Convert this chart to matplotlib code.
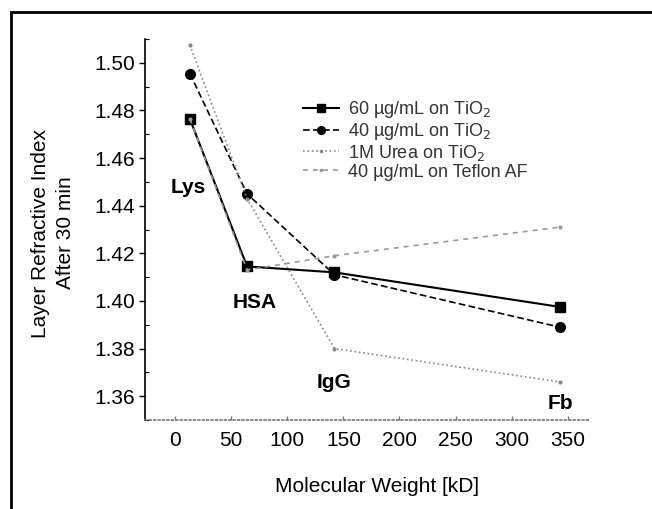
import matplotlib
matplotlib.use("Agg")
import matplotlib.pyplot as plt
from matplotlib.patches import Rectangle
from matplotlib.ticker import MultipleLocator, FormatStrFormatter

plt.rcParams['font.family'] = ['Liberation Sans', 'DejaVu Sans']

# molecular weight [kD] of Lys, HSA, IgG, Fb
mw = [13, 64, 142, 343]

ri_60_tio2 = [1.4765, 1.4145, 1.412, 1.3975]
ri_40_tio2 = [1.4955, 1.445, 1.411, 1.389]
ri_urea_tio2 = [1.5075, 1.443, 1.380, 1.366]
ri_40_teflon = [1.4765, 1.413, 1.419, 1.431]

labels = ["60 µg/mL on TiO$_2$", "40 µg/mL on TiO$_2$",
          "1M Urea on TiO$_2$", "40 µg/mL on Teflon AF"]

proteins = ["Lys", "HSA", "IgG", "Fb"]
protein_x = [11.6, 70.5, 142, 344]
protein_y = [1.4475, 1.3992, 1.3658, 1.3571]

fig = plt.figure(figsize=(6.52, 5.09), dpi=100)
ax = fig.add_axes([0.2224, 0.1748, 0.6826, 0.7486])

ax.plot(mw, ri_60_tio2, color='black', lw=1.5, marker='s', ms=7, label=labels[0])
ax.plot(mw, ri_40_tio2, color='black', lw=1.2, ls=(0, (4, 2)), marker='o', ms=7,
        label=labels[1])
ax.plot(mw, ri_urea_tio2, color='#888888', lw=1.2, ls=':', marker='.', ms=4,
        label=labels[2])
ax.plot(mw, ri_40_teflon, color='#999999', lw=1.2, ls=(0, (3, 3)), marker='.', ms=4,
        label=labels[3])

for name, px, py in zip(proteins, protein_x, protein_y):
    ax.text(px, py, name, fontsize=15, fontweight='bold', ha='center', va='center')

ax.set_xlim(-27, 370)
ax.set_ylim(1.35, 1.51)
ax.xaxis.set_major_locator(MultipleLocator(50))
ax.yaxis.set_major_locator(MultipleLocator(0.02))
ax.yaxis.set_minor_locator(MultipleLocator(0.01))
ax.yaxis.set_major_formatter(FormatStrFormatter('%.2f'))

ax.spines['top'].set_visible(False)
ax.spines['right'].set_visible(False)
ax.spines['left'].set_linewidth(1.2)
ax.spines['bottom'].set_linestyle(':')
ax.spines['bottom'].set_color('#777777')
ax.spines['bottom'].set_linewidth(1.2)

ax.tick_params(axis='y', which='major', direction='out', length=4, width=1,
               pad=3, labelsize=15)
ax.tick_params(axis='y', which='minor', direction='in', length=3, width=0.8)
ax.tick_params(axis='x', which='major', direction='in', length=3, width=1,
               color='#777777', pad=8, labelsize=15)

fig.text(53 / 652, 1 - 233 / 509, "Layer Refractive Index\nAfter 30 min",
         rotation=90, ha='center', va='center', fontsize=15, linespacing=1.45)
fig.text(377 / 652, 1 - 486 / 509, "Molecular Weight [kD]",
         ha='center', va='center', fontsize=15)

leg = ax.legend(loc='upper left', bbox_to_anchor=(303 / 652, 1 - 99 / 509),
                bbox_transform=fig.transFigure, frameon=False, fontsize=13,
                handlelength=2.0, handletextpad=0.5, labelspacing=0.05,
                borderpad=0, borderaxespad=0, markerscale=0.8)
for t in leg.get_texts():
    t.set_color('#333333')

# outer frame of the scanned figure
fig.patches.append(Rectangle((11 / 652, -0.05), 1.1, 1 - 12 / 509 + 0.05,
                             transform=fig.transFigure, fill=False,
                             edgecolor='black', lw=2))

fig.savefig("out.png", dpi=100)
